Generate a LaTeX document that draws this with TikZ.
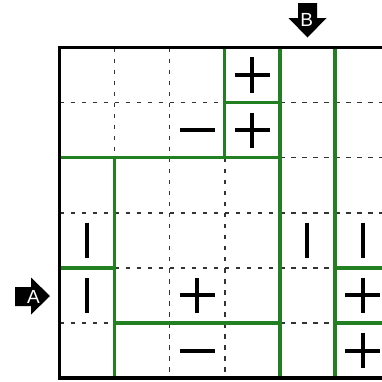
\documentclass[tikz,border=0pt]{standalone}
\usepackage{fontspec}
\setsansfont{Liberation Sans}
\definecolor{wallgreen}{RGB}{34,128,34}
\tikzset{
  dashgrid/.style={line width=1.4pt, dash pattern=on 4.6pt off 6.42pt, black!80},
  wall/.style={line width=3.3pt, wallgreen, line cap=rect},
  border/.style={line width=3.6pt, black, line join=miter},
  sym/.style={line width=4pt, black},
  plus/.pic={\draw[sym] (-0.32,0)--(0.32,0) (0,-0.32)--(0,0.32);},
  minus/.pic={\draw[sym] (-0.32,0)--(0.32,0);},
  bar/.pic={\draw[sym] (0,-0.32)--(0,0.32);},
  arrowlab/.style={text=white, font=\sffamily\fontsize{19}{19}\selectfont, inner sep=0pt}
}
\begin{document}
\begin{tikzpicture}[x=1pt,y=-1pt]
\useasboundingbox (0,0) rectangle (382,381);
\clip (0,0) rectangle (382,381);
\begin{scope}[shift={(59.5,47.5)}, x=55.1pt, y=-55.1pt]
  % dashed grid lines
  \foreach \c in {1,...,6} \draw[dashgrid] (\c,0) -- (\c,6);
  \foreach \r in {1,...,5} \draw[dashgrid] (0,\r) -- (7,\r);
  % green region walls
  \draw[wall] (3,0)--(3,2) (4,0)--(4,6) (5,0)--(5,6)
              (3,1)--(4,1) (0,2)--(4,2) (1,2)--(1,6)
              (0,4)--(1,4) (1,5)--(4,5) (5,4)--(7,4) (5,5)--(7,5);
  % outer border
  \draw[border] (7,0)--(0,0)--(0,6)--(7,6);
  % symbols
  \pic at (3.5,0.5) {plus};
  \pic at (3.5,1.5) {plus};
  \pic at (2.5,1.5) {minus};
  \pic at (0.5,3.5) {bar};
  \pic at (0.5,4.5) {bar};
  \pic at (4.5,3.5) {bar};
  \pic at (5.5,3.5) {bar};
  \pic at (2.5,4.5) {plus};
  \pic at (5.5,4.5) {plus};
  \pic at (5.5,5.5) {plus};
  \pic at (2.5,5.5) {minus};
\end{scope}
% arrow B (down)
\fill[black] (298,3) -- (317,3) -- (317,18) -- (326.5,18) -- (307.5,37.5) -- (288.5,18) -- (298,18) -- cycle;
\node[arrowlab] (labB) at (306.8,20) {B};
% arrow A (right)
\fill[black] (15,287) -- (31,287) -- (31,277.5) -- (50,296) -- (31,314.5) -- (31,306) -- (15,306) -- cycle;
\node[arrowlab] (labA) at (33.5,296.5) {A};
\end{tikzpicture}
\end{document}
